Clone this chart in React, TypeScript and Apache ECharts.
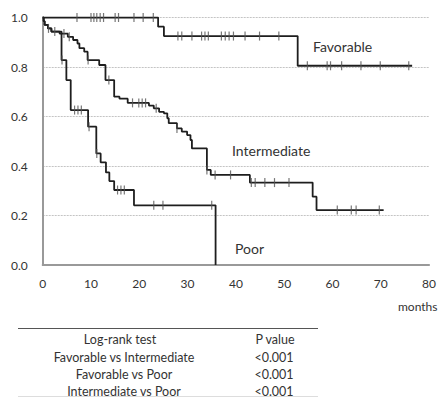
import React, { useEffect, useRef } from "react";
import * as echarts from "echarts";

// Kaplan-Meier step data (time in months, survival proportion)
const favTimes = [0, 23.9, 25.1, 52.8, 76.5];
const favSurv = [1.0, 0.963, 0.925, 0.805, 0.805];
const favCensor = [7.1, 10.0, 10.6, 11.2, 11.9, 12.6, 15.0, 15.7, 18.9, 20.8, 22.9, 28.0, 28.8, 30.9, 32.9, 33.6, 34.3, 37.0, 37.8, 38.6, 39.5, 41.9, 44.9, 48.9, 54.8, 58.9, 59.6, 61.9, 65.9, 69.9, 75.8];

const intTimes = [0, 0.2, 0.4, 1.1, 1.8, 3.5, 5.2, 6.3, 7.2, 7.6, 8.6, 9.3, 11.7, 13.0, 14.8, 15.9, 17.6, 22.0, 23.0, 24.1, 25.1, 25.8, 26.1, 27.8, 28.8, 29.9, 30.6, 30.9, 34.0, 34.8, 42.9, 55.9, 56.7, 70.6];
const intSurv = [1.0, 0.985, 0.97, 0.956, 0.943, 0.935, 0.922, 0.909, 0.895, 0.876, 0.862, 0.828, 0.808, 0.747, 0.68, 0.672, 0.655, 0.644, 0.633, 0.619, 0.613, 0.593, 0.573, 0.552, 0.539, 0.525, 0.505, 0.471, 0.384, 0.364, 0.333, 0.276, 0.222, 0.222];
const intCensor = [1.2, 2.5, 4.4, 5.5, 9.4, 13.7, 18.6, 19.9, 20.6, 21.3, 23.5, 27.8, 34.0, 35.7, 38.9, 43.2, 44.0, 46.0, 48.0, 51.0, 61.0, 63.9, 64.9, 69.7];

const poorTimes = [0, 0.2, 0.4, 1.1, 1.8, 3.9, 4.9, 5.8, 9.4, 11.1, 12.0, 13.1, 13.8, 14.8, 18.9, 35.8];
const poorSurv = [1.0, 0.985, 0.97, 0.956, 0.943, 0.828, 0.747, 0.626, 0.559, 0.451, 0.415, 0.374, 0.339, 0.303, 0.241, 0.0];
const poorCensor = [4.0, 6.6, 7.3, 8.0, 9.6, 11.2, 15.5, 16.2, 16.9, 23.0, 24.9, 35.0];

const groupNames = ["Favorable", "Intermediate", "Poor"];
const tableHeader = ["Log-rank test", "P value"];
const tableRows = ["Favorable vs Intermediate", "Favorable vs Poor", "Intermediate vs Poor"];
const tableP = ["<0.001", "<0.001", "<0.001"];

const FONT = "Lato, 'Open Sans', sans-serif";

function survAt(times: number[], surv: number[], t: number) {
  let s = surv[0];
  for (let i = 0; i < times.length; i++) {
    if (times[i] <= t) s = surv[i];
  }
  return s;
}

function stepData(times: number[], surv: number[]) {
  return times.map((t, i) => [t, surv[i]]);
}

function censorData(times: number[], surv: number[], cens: number[]) {
  return cens.map((c) => [c, survAt(times, surv, c)]);
}

export default function App() {
  const ref = useRef<HTMLDivElement>(null);
  useEffect(() => {
    if (!ref.current) return;
    const chart = echarts.init(ref.current, null, { renderer: "svg" });
    const lineStyle = { color: "#1e1e1e", width: 1.8 };
    const censorStyle = { color: "#555" };
    const mkLine = (name: string, t: number[], s: number[]) => ({
      name,
      type: "line",
      step: "end",
      showSymbol: false,
      symbol: "none",
      data: stepData(t, s),
      lineStyle,
      z: 3,
    });
    const mkCens = (name: string, t: number[], s: number[], c: number[]) => ({
      name: name + " censored",
      type: "scatter",
      symbol: "rect",
      symbolSize: [1.2, 9],
      data: censorData(t, s, c),
      itemStyle: censorStyle,
      z: 4,
    });
    const rowY = [357, 374, 391];
    const TF = `12.5px ${FONT}`;
    const graphic: any[] = [
      { type: "text", left: 313, top: 39, style: { text: groupNames[0], font: `14px ${FONT}`, fill: "#333" } },
      { type: "text", left: 232, top: 143, style: { text: groupNames[1], font: `14px ${FONT}`, fill: "#333" } },
      { type: "text", left: 235, top: 241, style: { text: groupNames[2], font: `14px ${FONT}`, fill: "#333" } },
      { type: "text", left: 398, top: 300, style: { text: "months", font: `12px ${FONT}`, fill: "#333" } },
      { type: "line", shape: { x1: 18, y1: 328.5, x2: 318, y2: 328.5 }, style: { stroke: "#555", lineWidth: 1 } },
      { type: "line", shape: { x1: 18, y1: 396.5, x2: 318, y2: 396.5 }, style: { stroke: "#ddd", lineWidth: 1 } },
      { type: "text", x: 120, y: 339.5, style: { text: tableHeader[0], font: TF, fill: "#333", align: "center", verticalAlign: "middle" } },
      { type: "text", x: 275, y: 339.5, style: { text: tableHeader[1], font: TF, fill: "#333", align: "center", verticalAlign: "middle" } },
    ];
    tableRows.forEach((r, i) => {
      graphic.push({ type: "text", x: 124, y: rowY[i], style: { text: r, font: TF, fill: "#333", align: "center", verticalAlign: "middle" } });
      graphic.push({ type: "text", x: 274, y: rowY[i], style: { text: tableP[i], font: TF, fill: "#333", align: "center", verticalAlign: "middle" } });
    });
    chart.setOption({
      animation: false,
      grid: { left: 42.7, top: 17.5, right: 6.3, bottom: 132, containLabel: false },
      xAxis: {
        type: "value",
        min: 0,
        max: 80,
        interval: 10,
        axisLine: { show: true, onZero: false, lineStyle: { color: "#999", width: 2 } },
        axisTick: { show: false },
        splitLine: { show: false },
        axisLabel: { margin: 12, fontSize: 12, color: "#333", fontFamily: FONT },
      },
      yAxis: {
        type: "value",
        min: 0,
        max: 1,
        interval: 0.2,
        axisLine: { show: true, lineStyle: { color: "#999", width: 2 } },
        axisTick: { show: false },
        splitLine: { show: true, lineStyle: { color: "#c4c4c4", type: [2, 1], width: 1 } },
        axisLabel: { margin: 15, fontSize: 12, color: "#333", fontFamily: FONT, formatter: (v: number) => v.toFixed(1) },
      },
      series: [
        mkLine(groupNames[0], favTimes, favSurv),
        mkLine(groupNames[1], intTimes, intSurv),
        mkLine(groupNames[2], poorTimes, poorSurv),
        mkCens(groupNames[0], favTimes, favSurv, favCensor),
        mkCens(groupNames[1], intTimes, intSurv, intCensor),
        mkCens(groupNames[2], poorTimes, poorSurv, poorCensor),
      ],
      graphic,
    });
    return () => chart.dispose();
  }, []);
  return (
    <div
      ref={ref}
      style={{ position: "fixed", left: 0, top: 0, width: 439, height: 397, background: "#fff" }}
    />
  );
}
